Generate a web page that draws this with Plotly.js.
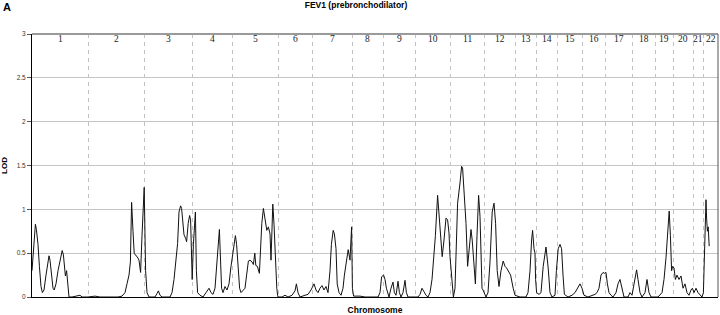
<!DOCTYPE html>
<html>
<head>
<meta charset="utf-8">
<script src="https://cdn.plot.ly/plotly-3.0.1.min.js"></script>
<style>html,body{margin:0;padding:0;background:#fff;}#chart{width:720px;height:315px;}</style>
</head>
<body>
<div id="chart"></div>
<script>
const chromLabels = ['1','2','3','4','5','6','7','8','9','10','11','12','13','14','15','16','17','18','19','20','21','22'];
const chromLengths = [280, 280, 243, 200, 227, 170, 200, 155, 160, 175, 170, 155, 105, 105, 125, 115, 135, 115, 90, 100, 50, 75];

const pos1 = [0, 8, 17, 22, 30, 37, 45, 52, 60, 70, 80, 85, 90, 97, 105, 111, 120, 130, 140, 151, 157, 163, 167, 173, 178, 185, 200, 220, 240, 250, 275];
const lod1 = [0.30, 0.60, 0.83, 0.77, 0.60, 0.35, 0.12, 0.05, 0.08, 0.25, 0.43, 0.47, 0.42, 0.25, 0.10, 0.08, 0.15, 0.30, 0.40, 0.53, 0.48, 0.36, 0.24, 0.30, 0.15, 0.00, 0.00, 0.01, 0.02, 0.00, 0.00];
const pos2 = [0, 35, 60, 110, 150, 170, 185, 195, 205, 212, 218, 225, 231, 240, 246, 255, 263, 270, 276];
const lod2 = [0.00, 0.01, 0.00, 0.00, 0.00, 0.01, 0.05, 0.15, 0.25, 0.40, 1.08, 0.75, 0.50, 0.47, 0.46, 0.42, 0.28, 0.70, 1.10];
const pos3 = [1, 8, 15, 25, 55, 65, 72, 80, 90, 130, 140, 150, 157, 168, 175, 183, 188, 193, 200, 208, 213, 221, 228, 233, 238, 241];
const lod3 = [1.25, 0.30, 0.05, 0.00, 0.00, 0.04, 0.07, 0.02, 0.00, 0.00, 0.05, 0.20, 0.35, 0.61, 0.97, 1.04, 1.01, 0.86, 0.71, 0.67, 0.63, 0.84, 0.93, 0.88, 0.50, 0.20];
const pos4 = [4, 14, 19, 25, 37, 52, 67, 82, 92, 102, 112, 122, 134, 140, 145, 152, 162, 172, 182, 192];
const lod4 = [0.60, 0.97, 0.30, 0.05, 0.02, 0.00, 0.05, 0.10, 0.05, 0.03, 0.10, 0.40, 0.77, 0.40, 0.10, 0.05, 0.12, 0.08, 0.15, 0.35];
const pos5 = [5, 14, 20, 27, 35, 42, 52, 62, 70, 79, 87, 97, 104, 111, 116, 124, 134, 146, 154, 162, 171, 179, 187, 192, 201, 207, 216, 221, 225];
const lod5 = [0.55, 0.70, 0.60, 0.30, 0.10, 0.05, 0.08, 0.10, 0.25, 0.41, 0.42, 0.40, 0.37, 0.50, 0.36, 0.35, 0.27, 0.84, 1.01, 0.90, 0.76, 0.80, 0.72, 0.42, 1.06, 0.83, 0.27, 0.10, 0.02];
const pos6 = [0, 20, 35, 50, 70, 85, 92, 100, 110, 135, 150, 165];
const lod6 = [0.00, 0.00, 0.02, 0.00, 0.02, 0.07, 0.15, 0.05, 0.00, 0.02, 0.03, 0.08];
const pos7 = [0, 10, 20, 30, 40, 50, 60, 70, 80, 90, 97, 106, 112, 120, 126, 135, 145, 155, 162, 170, 177, 181, 190, 198];
const lod7 = [0.10, 0.15, 0.08, 0.05, 0.10, 0.13, 0.08, 0.12, 0.05, 0.30, 0.60, 0.76, 0.72, 0.55, 0.15, 0.05, 0.02, 0.10, 0.25, 0.35, 0.48, 0.54, 0.42, 0.80];
const pos8 = [2, 8, 40, 65, 90, 130, 140, 148];
const lod8 = [0.10, 0.01, 0.01, 0.00, 0.00, 0.00, 0.05, 0.23];
const pos9 = [3, 10, 17, 25, 30, 40, 50, 57, 65, 75, 82, 90, 100, 110, 117, 125, 145];
const lod9 = [0.25, 0.20, 0.10, 0.05, 0.00, 0.10, 0.17, 0.05, 0.02, 0.18, 0.05, 0.00, 0.05, 0.19, 0.05, 0.00, 0.00];
const pos10 = [0, 15, 25, 35, 45, 55, 65, 75, 85, 95, 102, 113, 120, 128, 136, 145, 155, 163, 170];
const lod10 = [0.00, 0.00, 0.03, 0.10, 0.06, 0.02, 0.00, 0.05, 0.20, 0.45, 0.70, 1.16, 0.94, 0.69, 0.46, 0.65, 0.90, 0.88, 0.73];
const pos11 = [0, 8, 12, 17, 25, 32, 38, 50, 58, 63, 71, 80, 88, 96, 105, 111, 121, 127, 135, 143, 150, 155, 160, 165];
const lod11 = [0.46, 0.20, 0.05, 0.00, 0.10, 0.60, 1.07, 1.30, 1.49, 1.47, 1.22, 0.84, 0.35, 0.54, 0.77, 0.65, 0.39, 0.15, 0.70, 1.16, 0.92, 0.40, 0.10, 0.08];
const pos12 = [0, 10, 20, 30, 41, 50, 58, 66, 75, 85, 96, 105, 113, 121, 133, 146];
const lod12 = [0.05, 0.00, 0.05, 0.40, 0.97, 1.07, 0.84, 0.30, 0.12, 0.30, 0.41, 0.35, 0.33, 0.30, 0.25, 0.10];
const pos13 = [0, 25, 55, 65, 75, 83, 88, 95, 100, 103];
const lod13 = [0.02, 0.00, 0.00, 0.05, 0.30, 0.65, 0.76, 0.55, 0.50, 0.20];
const pos14 = [3, 15, 25, 36, 50, 61, 70, 80, 95, 102];
const lod14 = [0.05, 0.03, 0.05, 0.35, 0.57, 0.33, 0.05, 0.00, 0.02, 0.30];
const pos15 = [6, 15, 23, 30, 37, 55, 75, 90, 105, 115];
const lod15 = [0.55, 0.60, 0.55, 0.25, 0.03, 0.00, 0.02, 0.05, 0.12, 0.15];
const pos16 = [0, 10, 30, 50, 65, 75, 85, 95, 105, 112];
const lod16 = [0.10, 0.02, 0.00, 0.02, 0.03, 0.05, 0.10, 0.25, 0.28, 0.27];
const pos17 = [5, 12, 20, 30, 40, 55, 65, 75, 85, 95, 115, 125];
const lod17 = [0.28, 0.15, 0.05, 0.02, 0.00, 0.05, 0.15, 0.20, 0.10, 0.00, 0.00, 0.05];
const pos18 = [0, 10, 23, 30, 40, 50, 65, 75, 85, 95, 110];
const lod18 = [0.02, 0.15, 0.31, 0.20, 0.05, 0.00, 0.05, 0.20, 0.05, 0.00, 0.00];
const pos19 = [0, 15, 35, 45, 55, 62, 71, 77, 83, 88];
const lod19 = [0.00, 0.00, 0.05, 0.20, 0.45, 0.70, 0.98, 0.70, 0.30, 0.35];
const pos20 = [5, 12, 20, 30, 40, 50, 60, 70, 80, 90, 97];
const lod20 = [0.33, 0.20, 0.25, 0.20, 0.24, 0.10, 0.15, 0.05, 0.02, 0.08, 0.10];
const pos21 = [5, 15, 25, 35, 45];
const lod21 = [0.05, 0.10, 0.05, 0.02, 0.00];
const pos22 = [2, 7, 11, 15, 18, 22, 26, 31];
const lod22 = [0.05, 0.40, 0.85, 1.11, 0.90, 0.75, 0.80, 0.58];

const yTicks = [0, 0.5, 1, 1.5, 2, 2.5, 3];

const allPos = [pos1,pos2,pos3,pos4,pos5,pos6,pos7,pos8,pos9,pos10,pos11,pos12,pos13,pos14,pos15,pos16,pos17,pos18,pos19,pos20,pos21,pos22];
const allLod = [lod1,lod2,lod3,lod4,lod5,lod6,lod7,lod8,lod9,lod10,lod11,lod12,lod13,lod14,lod15,lod16,lod17,lod18,lod19,lod20,lod21,lod22];

const offsets = [];
let acc = 0;
chromLengths.forEach(l => { offsets.push(acc); acc += l; });
const total = acc;

const xs = [], ys = [];
allPos.forEach((p, i) => {
  p.forEach((v, j) => { xs.push(offsets[i] + v); ys.push(allLod[i][j]); });
});

const boundaries = offsets.slice(1);

const annotations = chromLabels.map((lab, i) => ({
  x: offsets[i] + chromLengths[i] / 2, xref: 'x',
  y: 0.981, yref: 'paper',
  text: lab, showarrow: false, xanchor: 'center', yanchor: 'middle',
  font: {family: 'Liberation Serif, Times New Roman, serif', size: 9.5, color: '#222'}
}));
annotations.push({
  x: -0.037, xref: 'paper', y: 1.101, yref: 'paper', text: '<b>A</b>', showarrow: false,
  xanchor: 'center', yanchor: 'middle',
  font: {family: 'Arial, Liberation Sans, sans-serif', size: 11, color: '#000'}
});

const trace = {
  x: xs, y: ys, type: 'scatter', mode: 'lines',
  line: {color: '#111', width: 1}, hoverinfo: 'skip'
};

const layout = {
  width: 720, height: 315,
  margin: {l: 32, r: 2, t: 34, b: 18},
  paper_bgcolor: '#fff', plot_bgcolor: '#fff',
  showlegend: false,
  title: {
    text: '<b>FEV1 (prebronchodilator)</b>',
    xref: 'container', x: 356/720, xanchor: 'center',
    yref: 'container', y: 1 - 5.5/315, yanchor: 'middle',
    font: {family: 'Arial, Liberation Sans, sans-serif', size: 8.5, color: '#000'}
  },
  xaxis: {
    range: [0, total], tickvals: boundaries, showticklabels: false, ticks: '',
    showgrid: true, gridcolor: '#c2c2c2', griddash: '4px,4px', gridwidth: 1,
    zeroline: false, showline: true, linecolor: '#000', linewidth: 1,
    title: {text: '<b>Chromosome</b>', standoff: 12,
            font: {family: 'Arial, Liberation Sans, sans-serif', size: 8.5, color: '#000'}},
    automargin: false, fixedrange: true
  },
  yaxis: {
    range: [0, 3], tickvals: yTicks, ticks: 'outside', ticklen: 4, tickcolor: '#555',
    tickfont: {family: 'Arial, Liberation Sans, sans-serif', size: 6.5, color: '#333'},
    showgrid: true, gridcolor: '#c4c4c4', gridwidth: 1,
    zeroline: false, showline: true, linecolor: '#000', linewidth: 1,
    title: {text: '<b>LOD</b>', standoff: 7,
            font: {family: 'Arial, Liberation Sans, sans-serif', size: 8, color: '#000'}},
    automargin: false, fixedrange: true
  },
  shapes: [
    {type: 'line', xref: 'paper', yref: 'paper', x0: 0, x1: 1, y0: 1, y1: 1, line: {color: '#9a9a9a', width: 2}},
    {type: 'line', xref: 'paper', yref: 'paper', x0: 1, x1: 1, y0: 0, y1: 1, line: {color: '#555', width: 1}}
  ],
  annotations: annotations
};

Plotly.newPlot('chart', [trace], layout, {displayModeBar: false, staticPlot: true});
</script>
</body>
</html>
